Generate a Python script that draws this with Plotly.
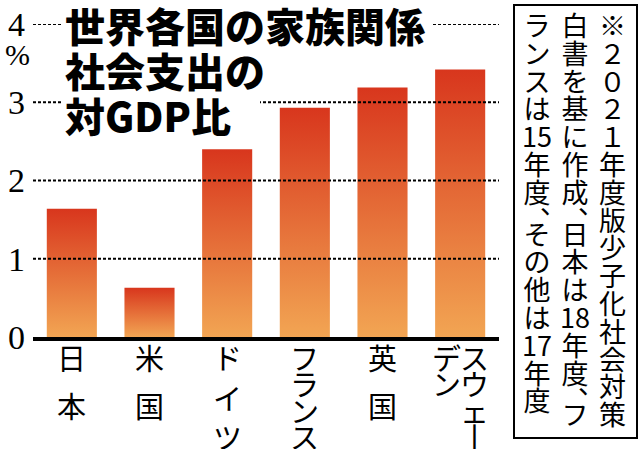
import plotly.graph_objects as go

# ---------------- data ----------------
categories = ["日本", "米国", "ドイツ", "フランス", "英国", "スウェーデン"]
category_columns = [["日本"], ["米国"], ["ドイツ"], ["フランス"], ["英国"], ["スウェー", "デン"]]
values = [1.64, 0.63, 2.40, 2.93, 3.19, 3.42]
y_ticks = [0, 1, 2, 3, 4]
y_unit = "%"
title_lines = ["世界各国の家族関係", "社会支出の", "対GDP比"]
note_columns = [
    ["※", "２", "０", "２", "１", "年", "度", "版", "少", "子", "化", "社", "会", "対", "策"],
    ["白", "書", "を", "基", "に", "作", "成", "、", "日", "本", "は", "18", "年", "度", "、", "フ"],
    ["ラ", "ン", "ス", "は", "15", "年", "度", "、", "そ", "の", "他", "は", "17", "年", "度"],
]

# ---------------- layout helpers ----------------
W, H = 640, 449
L, R, T, B = 33, 141, 24, 112
PW = W - L - R
PH = H - T - B
LS = 1.3  # plotly line spacing (em of the base font)


def px_x(px):
    return (px - L) / PW


def px_y(py):
    return (H - B - py) / PH


def span(t, size):
    return '<span style="font-size:%dpx">%s</span>' % (size, t)


JP = "Noto Sans CJK JP"
SERIF = "Liberation Serif"
BAR_W = 0.645
BOTTOM_COLOR = "#f2a553"
TOP_COLOR = "#d8361d"

fig = go.Figure()

for i, v in enumerate(values):
    x0, x1 = i - BAR_W / 2, i + BAR_W / 2
    fig.add_trace(go.Scatter(
        x=[x0, x1, x1, x0, x0], y=[0, 0, v, v, 0],
        mode="lines", fill="toself",
        line=dict(width=0, color="rgba(0,0,0,0)"),
        fillgradient=dict(type="vertical",
                          colorscale=[[0, BOTTOM_COLOR], [1, TOP_COLOR]]),
        hoverinfo="skip", showlegend=False, name=categories[i],
    ))

shapes = []
for v in y_ticks[1:]:
    shapes.append(dict(type="line", xref="paper", x0=0, x1=1, yref="y", y0=v, y1=v,
                       line=dict(color="black", width=2, dash="3px,2px"), layer="above"))
# white masks behind the title text (gridlines interrupted by the title)
shapes.append(dict(type="rect", xref="paper", yref="paper",
                   x0=px_x(62), x1=px_x(433), y0=px_y(32), y1=px_y(16),
                   line=dict(width=0), fillcolor="white", layer="above"))
shapes.append(dict(type="rect", xref="paper", yref="paper",
                   x0=px_x(62), x1=px_x(260), y0=px_y(109), y1=px_y(93),
                   line=dict(width=0), fillcolor="white", layer="above"))
# note frame
shapes.append(dict(type="rect", xref="paper", yref="paper",
                   x0=px_x(514), x1=px_x(637), y0=px_y(438), y1=px_y(5),
                   line=dict(color="black", width=2), fillcolor="rgba(0,0,0,0)",
                   layer="above"))

annotations = []
# title: one block, line pitch 45px
TITLE_SIZE = 40
annotations.append(dict(
    xref="paper", yref="paper", x=px_x(64), y=px_y(-5),
    xanchor="left", yanchor="top", align="left", showarrow=False, borderpad=0,
    text="<br>".join(span(t, TITLE_SIZE) for t in title_lines),
    font=dict(family=JP, size=45 / LS, color="black", weight=900)))

# unit
annotations.append(dict(xref="paper", yref="paper", x=px_x(17), y=px_y(55),
                        text=y_unit, showarrow=False, xanchor="center", yanchor="middle",
                        font=dict(family=SERIF, size=30, color="black")))

# vertical category labels (one annotation per text column)
LAB_SIZE = 29
for i, cols in enumerate(category_columns):
    ncol = len(cols)
    maxn = max(len(c) for c in cols)
    step = 48 if maxn == 1 else min(48, 79 / (maxn - 1))
    for j, col in enumerate(cols):
        xoff = ((ncol - 1) / 2 - j) * 28
        chars = ["丨" if ch == "ー" else ch for ch in col]
        annotations.append(dict(
            xref="x", yref="paper", x=i, y=px_y(358 + 0.38 * LAB_SIZE - 1.16 * LAB_SIZE),
            xshift=xoff, showarrow=False, xanchor="center", yanchor="top",
            align="center", borderpad=0,
            text="<br>".join(span(c, LAB_SIZE) for c in chars),
            font=dict(family=JP, size=step / LS, color="black")))

# vertical note text (one annotation per column, half-cell line pitch)
col_x = [612, 575, 537]
NSTEP = 27.8
NOTE_SIZE = 27
for cx, col in zip(col_x, note_columns):
    lines = []
    for tok in col:
        if tok == "、":
            lines.append(span("︑", NOTE_SIZE))
        else:
            lines.append(span(tok, NOTE_SIZE))
            lines.append("")
    while lines and lines[-1] == "":
        lines.pop()
    annotations.append(dict(
        xref="paper", yref="paper", x=px_x(cx),
        y=px_y(25 + 0.38 * NOTE_SIZE - 1.16 * NOTE_SIZE),
        showarrow=False, xanchor="center", yanchor="top", align="center", borderpad=0,
        text="<br>".join(lines),
        font=dict(family=JP, size=NSTEP / 2 / LS, color="black")))

fig.update_layout(
    width=W, height=H,
    margin=dict(l=L, r=R, t=T, b=B, pad=0),
    paper_bgcolor="white", plot_bgcolor="white",
    showlegend=False,
    xaxis=dict(range=[-0.5, len(values) - 0.5], showticklabels=False, showgrid=False,
               zeroline=False, showline=True, linecolor="black", linewidth=4,
               ticks="", fixedrange=True),
    yaxis=dict(range=[0, 4], tickvals=y_ticks, ticktext=[str(t) for t in y_ticks],
               showgrid=False, zeroline=False, showline=False, ticks="",
               ticklabelstandoff=7, automargin=False,
               tickfont=dict(family=SERIF, size=34, color="black"), fixedrange=True),
    shapes=shapes,
    annotations=annotations,
)

fig.write_html("out.html",
               config={"displayModeBar": False, "staticPlot": True},
               post_script="document.body.style.margin='0';document.body.style.overflow='hidden';")
